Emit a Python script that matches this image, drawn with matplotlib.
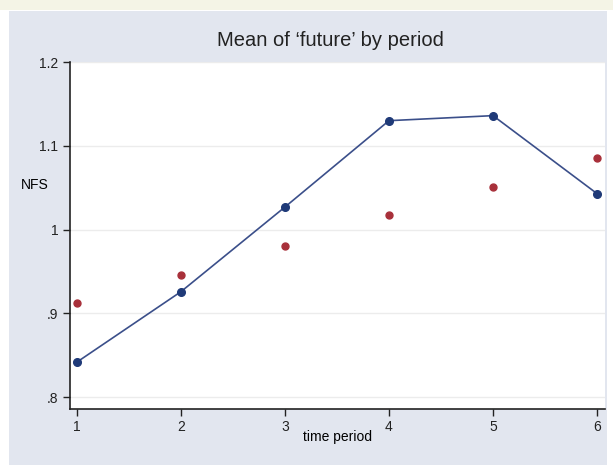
import matplotlib.pyplot as plt
from matplotlib.patches import Rectangle

plt.rcParams['font.family'] = ['Liberation Sans', 'DejaVu Sans']

# data
period = [1, 2, 3, 4, 5, 6]
nfs_line = [0.842, 0.926, 1.027, 1.130, 1.136, 1.043]
nfs_dots = [0.912, 0.946, 0.981, 1.017, 1.051, 1.086]
yticks = [0.8, 0.9, 1.0, 1.1, 1.2]
ytick_labels = ['.8', '.9', '1', '1.1', '1.2']

W, H = 613, 465
fig = plt.figure(figsize=(W / 100, H / 100), dpi=100)
fig.patch.set_facecolor('white')

# cream strip at the top and the grey-blue panel
fig.patches.append(Rectangle((0, 1 - 10 / H), 1, 10 / H, transform=fig.transFigure,
                             facecolor='#f4f4e6', edgecolor='none', zorder=-2))
fig.patches.append(Rectangle((9 / W, 0), 598 / W, 1 - 11 / H, transform=fig.transFigure,
                             facecolor='#e2e6ef', edgecolor='none', zorder=-2))

ax = fig.add_axes([70 / W, 1 - 409 / H, 535 / W, 347 / H])
ax.set_facecolor('white')

ax.plot(period, nfs_line, '-', color='#3b4f8a', lw=1.2, zorder=3)
ax.plot(period, nfs_line, 'o', color='#1f3a78', ms=5.5, zorder=4)
ax.plot(period, nfs_dots, 'o', color='#a8303a', ms=5, lw=0, zorder=4)

ax.set_xlim(0.933, 6.077)
ax.set_ylim(0.786, 1.2)
ax.set_xticks(period)
ax.set_yticks(yticks)
ax.set_yticklabels(ytick_labels)
ax.grid(axis='y', color='#ececec', lw=1)
ax.set_axisbelow(True)

for s in ['top', 'right']:
    ax.spines[s].set_visible(False)
for s in ['left', 'bottom']:
    ax.spines[s].set_color('#222222')
    ax.spines[s].set_linewidth(1.2)
ax.tick_params(length=5, width=1, colors='#222222', labelsize=10)
ax.tick_params(axis='x', pad=3)

ax.set_xlabel('time period', fontsize=10, labelpad=-3)
ax.set_ylabel('NFS', fontsize=10, rotation=0)
ax.yaxis.set_label_coords(-0.065, 0.625)
fig.text(330 / W, 1 - 40 / H, 'Mean of \u2018future\u2019 by period', fontsize=14.5,
         color='#222222', ha='center', va='center')

fig.savefig('out.png', dpi=100, facecolor=fig.get_facecolor())
